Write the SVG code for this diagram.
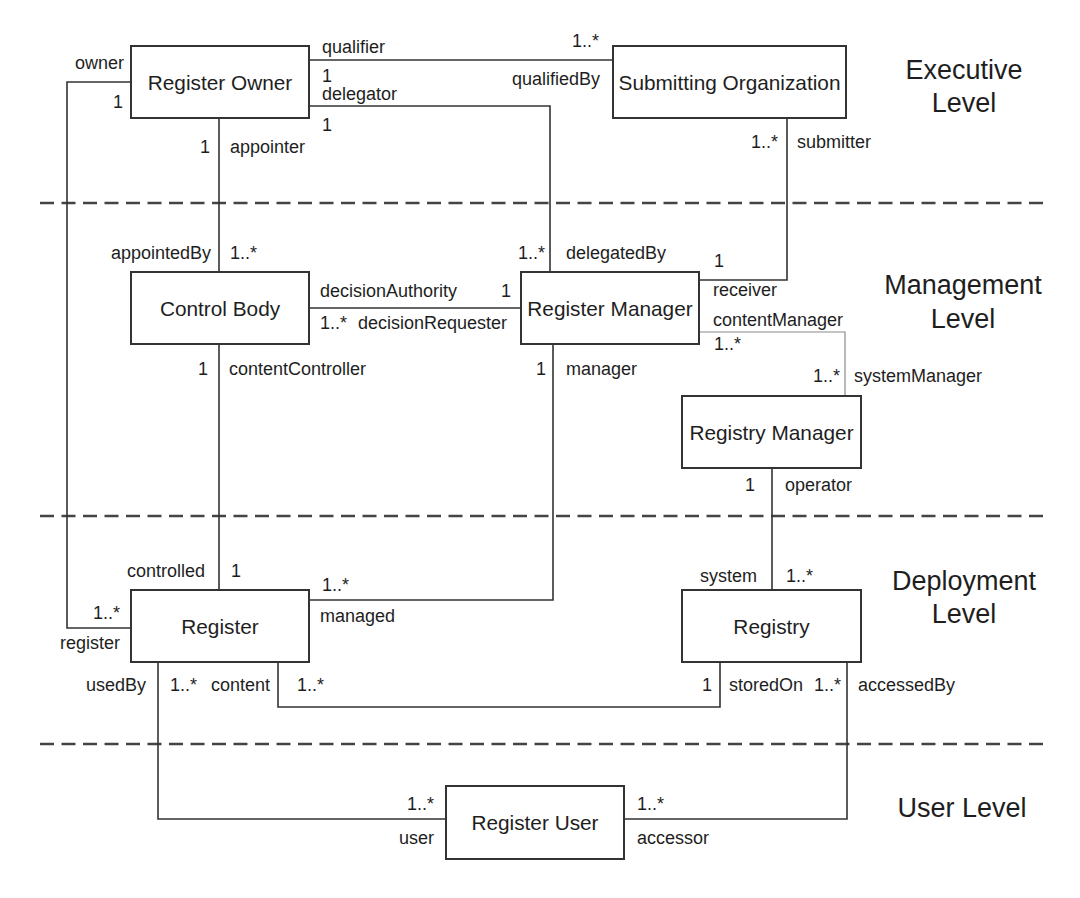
<svg xmlns="http://www.w3.org/2000/svg" width="1080" height="898" viewBox="0 0 1080 898">
<style>
  .box { fill: #ffffff; stroke: #333333; stroke-width: 2; }
  .nt { font-family: "Liberation Sans", Arial, sans-serif; font-size: 20.8px; fill: #1e1e1e; text-anchor: middle; }
  .lb { font-family: "Liberation Sans", Arial, sans-serif; font-size: 18px; fill: #1e1e1e; }
  .e { text-anchor: end; }
  .lv { font-family: "Liberation Sans", Arial, sans-serif; font-size: 27px; fill: #1e1e1e; text-anchor: middle; }
  .conn { fill: none; stroke: #333333; stroke-width: 1.6; }
  .thin { fill: none; stroke: #8a8a8a; stroke-width: 1.2; }
  .dash { fill: none; stroke: #444444; stroke-width: 2.5; stroke-dasharray: 14 7.5; }
</style>
<rect x="0" y="0" width="1080" height="898" fill="#ffffff"/>

<g id="levels">
  <line class="dash" x1="40" y1="203" x2="1043" y2="203"/>
  <line class="dash" x1="40" y1="516" x2="1043" y2="516"/>
  <line class="dash" x1="40" y1="744" x2="1043" y2="744"/>
  <text class="lv" x="964" y="79">Executive</text>
  <text class="lv" x="964" y="112">Level</text>
  <text class="lv" x="963" y="294">Management</text>
  <text class="lv" x="963" y="328">Level</text>
  <text class="lv" x="964" y="590">Deployment</text>
  <text class="lv" x="964" y="623">Level</text>
  <text class="lv" x="962" y="817">User Level</text>
</g>

<g id="connectors">
  <path class="conn" d="M131,82 H67 V628 H131"/>
  <path class="conn" d="M309,60 H613"/>
  <path class="conn" d="M309,106 H550 V272"/>
  <path class="conn" d="M219,118 V272"/>
  <path class="conn" d="M787,118 V280 H699"/>
  <path class="conn" d="M309,308 H521"/>
  <path class="conn" d="M219,344 V590"/>
  <path class="conn" d="M553,344 V600 H309"/>
  <path class="thin" d="M699,332 H845 V396"/>
  <path class="conn" d="M772,468 V590"/>
  <path class="conn" d="M158,662 V819 H446"/>
  <path class="conn" d="M278,662 V707 H720 V662"/>
  <path class="conn" d="M847,662 V819 H624"/>
</g>

<g id="connector-labels">
  <text class="lb e" x="124" y="69">owner</text>
  <text class="lb e" x="123" y="108">1</text>
  <text class="lb" x="322" y="53">qualifier</text>
  <text class="lb" x="322" y="82">1</text>
  <text class="lb" x="322" y="100">delegator</text>
  <text class="lb" x="322" y="131">1</text>
  <text class="lb e" x="600" y="85">qualifiedBy</text>
  <text class="lb e" x="599" y="47">1..*</text>
  <text class="lb e" x="210" y="153">1</text>
  <text class="lb" x="230" y="153">appointer</text>
  <text class="lb e" x="778" y="148">1..*</text>
  <text class="lb" x="797" y="148">submitter</text>

  <text class="lb e" x="211" y="259">appointedBy</text>
  <text class="lb" x="230" y="259">1..*</text>
  <text class="lb e" x="545" y="259">1..*</text>
  <text class="lb" x="566" y="259">delegatedBy</text>
  <text class="lb" x="714" y="267">1</text>
  <text class="lb" x="320" y="297">decisionAuthority</text>
  <text class="lb e" x="511" y="297">1</text>
  <text class="lb" x="320" y="329">1..*</text>
  <text class="lb" x="358" y="329">decisionRequester</text>
  <text class="lb" x="713" y="296">receiver</text>
  <text class="lb" x="713" y="326">contentManager</text>
  <text class="lb" x="714" y="350">1..*</text>
  <text class="lb e" x="208" y="375">1</text>
  <text class="lb" x="229" y="375">contentController</text>
  <text class="lb e" x="546" y="375">1</text>
  <text class="lb" x="566" y="375">manager</text>
  <text class="lb e" x="840" y="382">1..*</text>
  <text class="lb" x="854" y="382">systemManager</text>
  <text class="lb e" x="755" y="491">1</text>
  <text class="lb" x="785" y="491">operator</text>

  <text class="lb e" x="205" y="577">controlled</text>
  <text class="lb" x="231" y="577">1</text>
  <text class="lb" x="322" y="591">1..*</text>
  <text class="lb" x="320" y="622">managed</text>
  <text class="lb e" x="120" y="619">1..*</text>
  <text class="lb e" x="120" y="649">register</text>
  <text class="lb e" x="146" y="691">usedBy</text>
  <text class="lb" x="170" y="691">1..*</text>
  <text class="lb" x="211" y="691">content</text>
  <text class="lb" x="297" y="691">1..*</text>
  <text class="lb e" x="757" y="582">system</text>
  <text class="lb" x="786" y="582">1..*</text>
  <text class="lb e" x="712" y="691">1</text>
  <text class="lb" x="729" y="691">storedOn</text>
  <text class="lb" x="814" y="691">1..*</text>
  <text class="lb" x="858" y="691">accessedBy</text>

  <text class="lb e" x="434" y="810">1..*</text>
  <text class="lb e" x="434" y="844">user</text>
  <text class="lb" x="637" y="810">1..*</text>
  <text class="lb" x="637" y="844">accessor</text>
</g>

<g id="register-owner">
  <rect class="box" x="131" y="46" width="178" height="72"/>
  <text class="nt" x="220" y="89.5">Register Owner</text>
</g>
<g id="submitting-organization">
  <rect class="box" x="613" y="46" width="233" height="72"/>
  <text class="nt" x="729.5" y="89.5">Submitting Organization</text>
</g>
<g id="control-body">
  <rect class="box" x="131" y="272" width="178" height="72"/>
  <text class="nt" x="220" y="315.5">Control Body</text>
</g>
<g id="register-manager">
  <rect class="box" x="521" y="272" width="178" height="72"/>
  <text class="nt" x="610" y="315.5">Register Manager</text>
</g>
<g id="registry-manager">
  <rect class="box" x="682" y="396" width="179" height="72"/>
  <text class="nt" x="771.5" y="439.5">Registry Manager</text>
</g>
<g id="register">
  <rect class="box" x="131" y="590" width="178" height="72"/>
  <text class="nt" x="220" y="633.5">Register</text>
</g>
<g id="registry">
  <rect class="box" x="682" y="590" width="179" height="72"/>
  <text class="nt" x="771.5" y="633.5">Registry</text>
</g>
<g id="register-user">
  <rect class="box" x="446" y="786" width="178" height="73"/>
  <text class="nt" x="535" y="830">Register User</text>
</g>
</svg>
